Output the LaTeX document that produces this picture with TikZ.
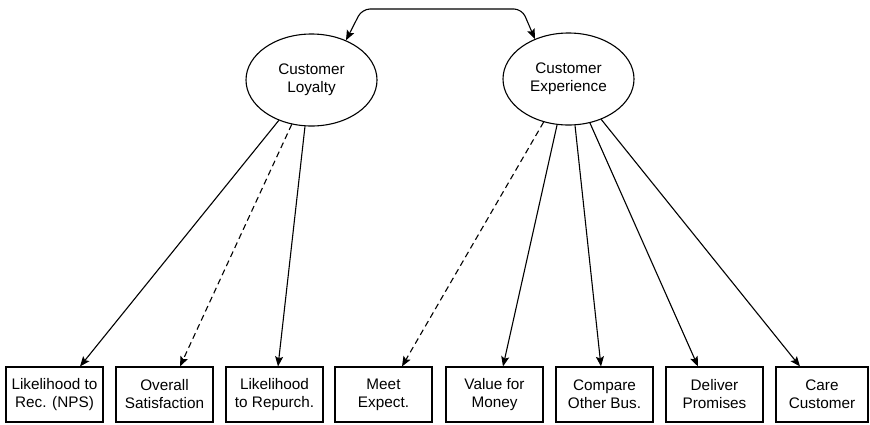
\documentclass[tikz,border=0pt]{standalone}
\usepackage{fontspec}
\setmainfont{Liberation Sans}
\usetikzlibrary{calc,shapes.geometric,arrows.meta}
\begin{document}
\begin{tikzpicture}[x=1pt,y=-1pt,
  every node/.style={font=\fontsize{15.3}{18}\selectfont, align=center},
  latent/.style={draw, ellipse, line width=1.1pt, minimum width=131pt, minimum height=92pt, inner sep=0pt},
  indic/.style={draw, rectangle, line width=1.1pt, minimum width=97pt, minimum height=55pt, inner sep=0pt},
  conn/.style={line width=1.1pt, -{Stealth[length=10pt,width=8pt,inset=2pt]}},
  dconn/.style={conn, dash pattern=on 6pt off 4pt}]
\useasboundingbox (0,0) rectangle (870,424);
\node[latent] (L) at (311.5,80) {Customer\\Loyalty};
\node[latent] (E) at (568.5,79) {Customer\\Experience};
\node[indic] (b1) at (54.5,394.5) {Likelihood to\\Rec. (NPS)};
\node[indic] (b2) at (164.5,394.5) {Overall\\Satisfaction};
\node[indic] (b3) at (274.5,394.5) {Likelihood\\to Repurch.};
\node[indic] (b4) at (383.5,394.5) {Meet\\Expect.};
\node[indic] (b5) at (494.5,394.5) {Value for\\Money};
\node[indic] (b6) at (604.5,394.5) {Compare\\Other Bus.};
\node[indic] (b7) at (714.5,394.5) {Deliver\\Promises};
\node[indic, minimum width=92pt] (b8) at (822,394.5) {Care\\Customer};
\coordinate (c1) at (362,9);
\coordinate (c2) at (522,9);
\draw[line width=1.1pt, rounded corners=8pt, {Stealth[length=10pt,width=8pt,inset=2pt]}-{Stealth[length=10pt,width=8pt,inset=2pt]}]
  (L.49) -- (c1) -- (c2) -- (E.130);
\draw[conn] (L.231) -- ($(b1.north)+(25.5,0)$);
\draw[dconn] (L.246) -- ($(b2.north)+(15.5,0)$);
\draw[conn] (L.262) -- ($(b3.north)+(3.5,0)$);
\draw[dconn] (E.240) -- ($(b4.north)+(18.5,0)$);
\draw[conn] (E.256) -- ($(b5.north)+(8.5,0)$);
\draw[conn] (E.278) -- ($(b6.north)+(-3.5,0)$);
\draw[conn] (E.296) -- ($(b7.north)+(-16.5,0)$);
\draw[conn] (E.309) -- ($(b8.north)+(-22,0)$);
\end{tikzpicture}
\end{document}
